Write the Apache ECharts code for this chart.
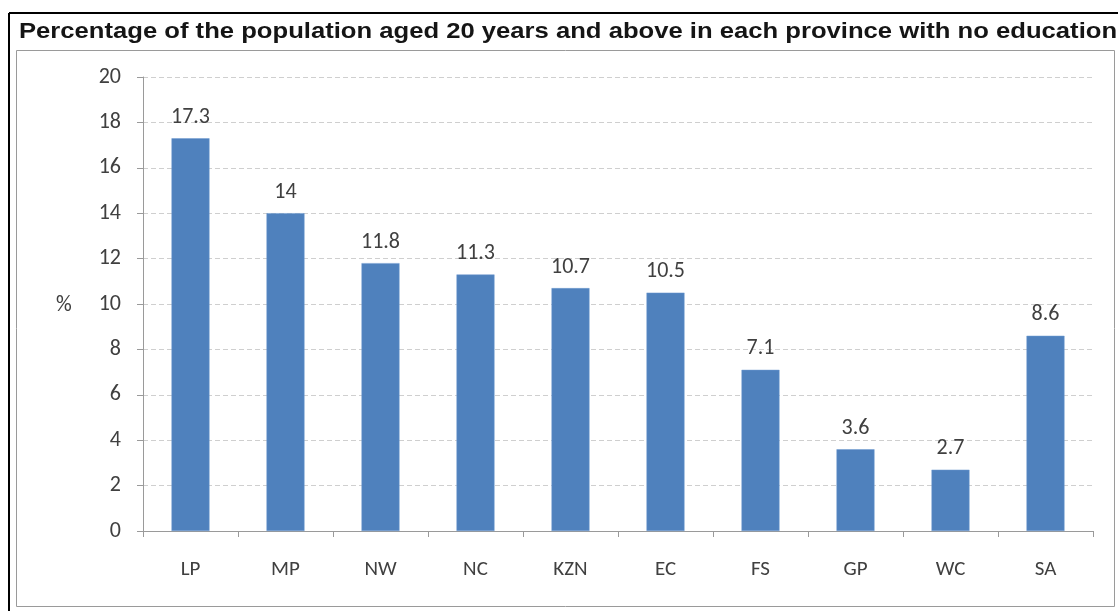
<!DOCTYPE html>
<html>
<head>
<meta charset="utf-8">
<title>No education by province</title>
<script src="https://cdn.jsdelivr.net/npm/echarts@6/dist/echarts.min.js"></script>
<style>
  html, body { margin: 0; padding: 0; background: #fff; }
  #chart { width: 1118px; height: 611px; }
</style>
</head>
<body>
<div id="chart"></div>
<script>
// Provinces and share of people aged 20+ with no schooling (%)
const provinces = ['LP', 'MP', 'NW', 'NC', 'KZN', 'EC', 'FS', 'GP', 'WC', 'SA'];
const noEducationPct = [17.3, 14, 11.8, 11.3, 10.7, 10.5, 7.1, 3.6, 2.7, 8.6];
const titleText = 'Percentage of the population aged 20 years and above in each province with no education';

const chart = echarts.init(document.getElementById('chart'), null, { renderer: 'canvas' });
const textFont = 'Carlito, "Open Sans", "DejaVu Sans", sans-serif';
const textColor = '#404040';

chart.setOption({
  animation: false,
  graphic: [
    // outer frame (top and left edges) and inner chart border
    { type: 'line', shape: { x1: 9, y1: 13, x2: 1118, y2: 13 }, style: { stroke: '#000', lineWidth: 2 } },
    { type: 'line', shape: { x1: 9, y1: 13, x2: 9, y2: 611 }, style: { stroke: '#000', lineWidth: 2 } },
    { type: 'rect', shape: { x: 16.5, y: 50.5, width: 1098, height: 556 }, style: { fill: 'none', stroke: '#9a9a9a', lineWidth: 1 } },
    // wide bold heading
    {
      type: 'text', x: 19, y: 21, scaleX: 1.165,
      style: {
        text: titleText,
        font: 'bold 22px "Liberation Sans", Arial, sans-serif',
        fill: '#151515',
        textAlign: 'left',
        textVerticalAlign: 'top'
      }
    },
    // y-axis unit
    { type: 'text', x: 56, y: 294, style: { text: '%', font: '22px ' + textFont, fill: textColor } }
  ],
  grid: { left: 143, right: 25, top: 77, bottom: 80, containLabel: false },
  xAxis: {
    type: 'category',
    data: provinces,
    axisLine: { lineStyle: { color: '#9a9a9a', width: 1 } },
    axisTick: { show: true, alignWithLabel: false, length: 6, lineStyle: { color: '#9a9a9a' } },
    axisLabel: { color: textColor, fontSize: 21, fontFamily: textFont, margin: 28 }
  },
  yAxis: {
    type: 'value',
    min: 0,
    max: 20,
    interval: 2,
    axisLine: { show: true, lineStyle: { color: '#9a9a9a', width: 1 } },
    axisTick: { show: true, length: 6, lineStyle: { color: '#9a9a9a' } },
    axisLabel: { color: textColor, fontSize: 22, fontFamily: textFont, margin: 22 },
    splitLine: { show: true, lineStyle: { color: '#cfcfcf', type: [5, 3], width: 1 } }
  },
  series: [{
    type: 'bar',
    data: noEducationPct,
    barWidth: '40%',
    itemStyle: { color: '#4f81bd', borderColor: '#6f9bd1', borderWidth: 0.5 },
    label: {
      show: true,
      position: 'top',
      distance: 10,
      color: textColor,
      fontSize: 22,
      fontFamily: textFont
    }
  }]
});
</script>
</body>
</html>
